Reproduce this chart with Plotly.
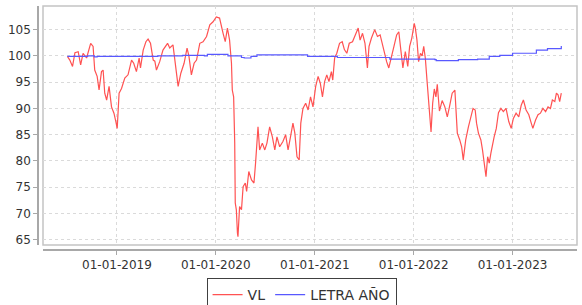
import plotly.graph_objects as go

vl_dates = [
    "2018-07-02", "2018-07-11", "2018-07-21", "2018-07-30", "2018-08-11", "2018-08-20",
    "2018-08-29", "2018-09-11", "2018-09-26", "2018-10-05", "2018-10-11", "2018-10-20",
    "2018-10-27", "2018-11-05", "2018-11-11", "2018-11-17", "2018-11-24", "2018-12-03",
    "2018-12-12", "2018-12-21", "2018-12-28", "2019-01-02", "2019-01-09", "2019-01-18",
    "2019-01-30", "2019-02-11", "2019-02-24", "2019-03-04", "2019-03-14", "2019-03-24",
    "2019-03-29", "2019-04-08", "2019-04-18", "2019-04-26", "2019-05-05", "2019-05-15",
    "2019-05-21", "2019-05-27", "2019-06-08", "2019-06-20", "2019-07-07", "2019-07-15",
    "2019-07-27", "2019-08-05", "2019-08-15", "2019-08-25", "2019-09-06", "2019-09-17",
    "2019-09-24", "2019-10-03", "2019-10-13", "2019-10-22", "2019-11-03", "2019-11-15",
    "2019-11-28", "2019-12-10", "2019-12-22", "2020-01-03", "2020-01-15", "2020-01-28",
    "2020-02-05", "2020-02-13", "2020-02-21", "2020-02-28", "2020-03-02", "2020-03-07",
    "2020-03-11", "2020-03-13", "2020-03-17", "2020-03-21", "2020-03-23", "2020-03-29",
    "2020-04-05", "2020-04-11", "2020-04-19", "2020-04-24", "2020-05-02", "2020-05-12",
    "2020-05-21", "2020-05-27", "2020-06-05", "2020-06-11", "2020-06-21", "2020-06-30",
    "2020-07-08", "2020-07-18", "2020-07-28", "2020-08-06", "2020-08-14", "2020-08-24",
    "2020-09-05", "2020-09-15", "2020-09-24", "2020-10-03", "2020-10-12", "2020-10-19",
    "2020-10-27", "2020-11-04", "2020-11-10", "2020-11-18", "2020-11-28", "2020-12-07",
    "2020-12-16", "2020-12-25", "2021-01-04", "2021-01-13", "2021-01-21", "2021-01-29",
    "2021-02-06", "2021-02-14", "2021-02-22", "2021-03-03", "2021-03-08", "2021-03-15",
    "2021-03-23", "2021-04-02", "2021-04-12", "2021-04-20", "2021-04-29", "2021-05-08",
    "2021-05-20", "2021-06-02", "2021-06-10", "2021-06-17", "2021-06-26", "2021-07-05",
    "2021-07-14", "2021-07-20", "2021-07-29", "2021-08-10", "2021-08-20", "2021-08-30",
    "2021-09-07", "2021-09-16", "2021-09-23", "2021-10-01", "2021-10-10", "2021-10-20",
    "2021-10-30", "2021-11-07", "2021-11-13", "2021-11-22", "2021-12-01", "2021-12-10",
    "2021-12-17", "2021-12-25", "2022-01-03", "2022-01-07", "2022-01-13", "2022-01-19",
    "2022-01-26", "2022-02-01", "2022-02-07", "2022-02-13", "2022-02-19", "2022-02-25",
    "2022-03-02", "2022-03-06", "2022-03-12", "2022-03-18", "2022-03-24", "2022-03-29",
    "2022-04-06", "2022-04-16", "2022-04-26", "2022-05-05", "2022-05-13", "2022-05-23",
    "2022-06-02", "2022-06-11", "2022-06-20", "2022-06-27", "2022-07-03", "2022-07-12",
    "2022-07-22", "2022-07-31", "2022-08-08", "2022-08-16", "2022-08-21", "2022-08-28",
    "2022-09-06", "2022-09-12", "2022-09-18", "2022-09-25", "2022-10-01", "2022-10-07",
    "2022-10-13", "2022-10-19", "2022-10-25", "2022-11-02", "2022-11-10", "2022-11-19",
    "2022-11-28", "2022-12-08", "2022-12-18", "2022-12-27", "2023-01-04", "2023-01-14",
    "2023-01-24", "2023-02-02", "2023-02-10", "2023-02-20", "2023-03-02", "2023-03-11",
    "2023-03-17", "2023-03-27", "2023-04-05", "2023-04-14", "2023-04-23", "2023-05-03",
    "2023-05-12", "2023-05-21", "2023-05-28", "2023-06-06", "2023-06-12", "2023-06-18",
    "2023-06-24", "2023-06-30",
]
vl_values = [
    99.9, 99.2, 98.0, 100.6, 100.8, 98.3,
    100.5, 99.6, 102.4, 101.8, 97.3, 96.1,
    93.5, 97.0, 97.3, 92.9, 91.6, 94.2,
    90.3, 89.1, 87.5, 86.2, 92.9, 93.8,
    95.8, 96.4, 99.2, 98.6, 97.0, 99.6,
    97.7, 101.1, 102.7, 103.2, 102.4, 99.2,
    99.0, 97.3, 98.9, 101.1, 102.4, 101.5,
    102.1, 98.3, 94.2, 96.7, 98.6, 101.5,
    99.9, 96.4, 98.6, 99.2, 102.4, 102.7,
    103.7, 105.9, 106.5, 107.4, 107.2, 104.3,
    102.7, 105.3, 103.0, 98.6, 93.5, 92.2,
    83.4, 72.0, 70.7, 66.3, 65.6, 71.3,
    70.7, 75.1, 75.8, 74.2, 78.0, 76.4,
    75.8, 79.6, 86.5, 82.1, 83.4, 82.1,
    83.4, 86.5, 84.6, 82.1, 84.6, 82.7,
    83.7, 85.0, 82.1, 84.6, 87.2, 85.3,
    80.8, 80.2, 87.2, 90.0, 91.0, 89.7,
    92.2, 90.3, 94.2, 96.1, 94.8, 92.2,
    95.1, 96.4, 95.1, 97.0, 95.4, 99.6,
    100.5, 102.4, 102.7, 101.2, 100.5, 102.4,
    102.7, 104.3, 105.3, 103.0, 104.3, 102.4,
    97.7, 101.8, 103.4, 105.0, 103.7, 104.0,
    102.1, 100.5, 98.9, 97.7, 99.9, 101.8,
    104.0, 104.6, 101.8, 97.7, 100.8, 98.0,
    101.8, 103.4, 106.2, 105.3, 103.0, 98.9,
    100.5, 100.0, 101.8, 99.5, 95.4, 91.5,
    87.0, 85.5, 91.0, 93.7, 92.2, 94.6,
    89.5, 91.5, 90.3, 88.4, 90.3, 92.9,
    93.5, 85.3, 84.0, 82.7, 80.2, 84.0,
    86.5, 88.4, 90.0, 89.7, 87.2, 85.3,
    84.0, 82.1, 79.6, 77.0, 80.8, 79.6,
    81.5, 83.5, 84.6, 86.2, 89.2, 90.0,
    89.4, 90.0, 87.5, 86.2, 88.1, 89.1,
    88.4, 90.6, 91.6, 89.7, 88.8, 87.2,
    86.2, 87.8, 88.8, 89.1, 90.0, 89.4,
    90.3, 90.0, 91.6, 91.3, 92.9, 92.6,
    91.3, 92.9,
]

letra_dates = [
    "2018-07-02", "2018-09-15", "2018-10-10", "2018-10-20", "2019-06-01", "2019-09-01",
    "2019-11-20", "2019-12-01", "2020-01-01", "2020-02-15", "2020-04-05", "2020-04-15",
    "2020-05-10", "2020-06-01", "2020-11-25", "2020-12-05", "2021-03-15", "2021-03-25",
    "2021-09-25", "2021-10-05", "2022-01-05", "2022-03-20", "2022-03-25", "2022-06-01",
    "2022-06-15", "2022-08-25", "2022-10-07", "2022-11-15", "2023-01-01", "2023-03-30",
    "2023-05-10", "2023-06-30",
]
letra_values = [
    99.9, 100.0, 99.8, 99.9, 100.0, 100.1,
    100.0, 100.3, 100.3, 100.0, 99.7, 99.6,
    99.9, 100.2, 100.2, 99.9, 99.9, 99.7,
    99.7, 99.4, 99.4, 99.3, 99.1, 99.1,
    99.3, 99.4, 99.9, 100.1, 100.5, 101.1,
    101.4, 101.9,
]

x_ticks = ["2019-01-01", "2020-01-01", "2021-01-01", "2022-01-01", "2023-01-01"]
x_range = ["2018-04-03", "2023-08-27"]
y_range = [64.0, 109.5]

FONT = "DejaVu Sans"
grid = dict(showgrid=True, gridcolor="#dadada", griddash="3px,3px", gridwidth=1)

fig = go.Figure()
fig.add_trace(go.Scatter(x=vl_dates, y=vl_values, mode="lines", name="VL",
                         line=dict(color="#ff5252", width=1.2)))
fig.add_trace(go.Scatter(x=letra_dates, y=letra_values, mode="lines", name="LETRA AÑO",
                         line=dict(color="#5858ff", width=1.2, shape="hv")))

fig.update_layout(
    width=582, height=305,
    margin=dict(l=38, r=5, t=6, b=55, autoexpand=False),
    paper_bgcolor="white", plot_bgcolor="white",
    font=dict(family=FONT, size=12, color="#333333"),
    xaxis=dict(
        type="date", range=x_range, tickvals=x_ticks, tickformat="%d-%m-%Y",
        domain=[5 / 539, 1], anchor="free", position=0, automargin=False,
        showline=True, linecolor="#a8a8a8", linewidth=1.5,
        ticks="outside", ticklen=4, tickcolor="#a8a8a8",
        tickfont=dict(family=FONT, size=12, color="#333333"),
        zeroline=False, **grid,
    ),
    yaxis=dict(
        range=y_range, tick0=65, dtick=5,
        domain=[5 / 244, 1], anchor="free", position=0, automargin=False,
        showline=True, linecolor="#a8a8a8", linewidth=1.5,
        ticks="outside", ticklen=4, tickcolor="#a8a8a8",
        tickfont=dict(family=FONT, size=12, color="#333333"),
        zeroline=False, **grid,
    ),
    showlegend=True,
    legend=dict(
        orientation="h", x=0.489, xanchor="center", y=-0.115, yanchor="top",
        bordercolor="#404040", borderwidth=1, bgcolor="white",
        font=dict(family=FONT, size=14, color="#333333"),
        itemwidth=30, tracegroupgap=0,
    ),
    shapes=[dict(type="rect", xref="x domain", yref="y domain", x0=0, x1=1, y0=0, y1=1,
                 line=dict(color="#c4c4c4", width=1.5), layer="below")],
)

fig.write_html("out.html", config={"displayModeBar": False},
               post_script="document.body.style.margin='0';")
